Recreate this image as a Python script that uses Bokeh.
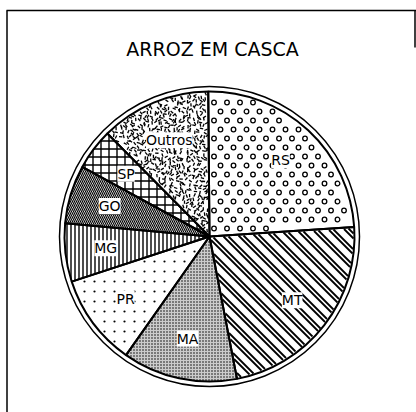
import numpy as np
from bokeh.plotting import figure
from bokeh.models import Range1d, ColumnDataSource, LabelSet, Label
from bokeh.core.properties import value
from bokeh.embed import file_html
from bokeh.resources import INLINE

# ---- data ----
title_text = "ARROZ EM CASCA"
states = ["RS", "MT", "MA", "PR", "MG", "GO", "SP", "Outros"]
shares = [24.1, 23.0, 12.8, 10.2, 6.5, 6.5, 4.6, 12.3]  # % of national production

# ---- styles ----
# built-in hatches for some slices; the others get drawn textures below
patterns = [None, None, "dot", None, "vertical_line", "left_diagonal_line", "cross", None]
pscales = [1, 1, 3, 1, 4, 4, 8, 1]
pweights = [1, 1, 1.1, 1, 1.4, 1.2, 1.4, 1]
fills = ["white", "white", "#cccccc", "white", "white", "white", "white", "white"]

W, H = 416, 412
cx, cy = 209, 176        # pie centre in plot units (== px)
R_in, R_out = 145, 150
start_offset = -0.5      # degrees, clockwise from top

p = figure(width=W, height=H, output_backend="svg", toolbar_location=None,
           x_range=Range1d(0, W), y_range=Range1d(0, H),
           x_axis_location=None, y_axis_location=None, min_border=0)
p.grid.visible = False
p.outline_line_color = None
p.background_fill_color = "white"
p.border_fill_color = "white"

tot = float(sum(shares))
deg = np.array(shares) / tot * 360.0
cum = np.concatenate([[0.0], np.cumsum(deg)]) + start_offset

for i, s in enumerate(states):
    a1 = np.radians(90 - cum[i + 1])
    a2 = np.radians(90 - cum[i])
    kw = {}
    if patterns[i]:
        kw = dict(hatch_pattern=patterns[i], hatch_scale=pscales[i],
                  hatch_weight=pweights[i], hatch_color="black")
    p.wedge(x=cx, y=cy, radius=R_in, start_angle=a1, end_angle=a2,
            fill_color=fills[i], line_color=None, **kw)


def inside(X, Y, i, margin):
    a0, a1 = cum[i], cum[i + 1]
    dx, dy = X - cx, Y - cy
    r = np.hypot(dx, dy)
    rel = (np.degrees(np.arctan2(dx, dy)) - a0) % 360
    span = a1 - a0
    ok = (rel < span) & (r < R_in - margin)
    ok &= r * np.sin(np.radians(rel)) > margin
    ok &= r * np.sin(np.radians(span - rel)) > margin
    return ok


# RS: staggered rings
ry = np.arange(cy - R_in, cy + R_in, 9.0)
gx, gy = [], []
for k, yy in enumerate(ry):
    xx = np.arange(cx - R_in + (6.5 if k % 2 else 0), cx + R_in, 13.0)
    gx.extend(xx); gy.extend([yy] * len(xx))
gx, gy = np.array(gx), np.array(gy)
m = inside(gx, gy, 0, 4)
p.scatter(gx[m], gy[m], marker="circle", size=4.6, fill_color="white",
          line_color="black", line_width=1.3)

# PR: sparse small dots
gx, gy = np.meshgrid(np.arange(cx - R_in, cx + R_in, 10.0), np.arange(cy - R_in, cy + R_in, 10.0))
gx, gy = gx.ravel(), gy.ravel()
m = inside(gx, gy, 3, 3)
p.scatter(gx[m], gy[m], marker="circle", size=2.2, fill_color="black", line_color=None)

# MT: paired diagonal lines (screen "\")
xs_s = np.arange(cx - R_in, cx + R_in, 0.5)
seg_x, seg_y = [], []
for c0 in np.arange(cx + cy - 2 * R_in, cx + cy + 2 * R_in, 16.0):
    for c in (c0, c0 + 5.0):
        ys_s = c - xs_s
        mm = inside(xs_s, ys_s, 1, 0.8)
        if mm.sum() > 1:
            idx = np.where(mm)[0]
            seg_x.append([xs_s[idx[0]], xs_s[idx[-1]]])
            seg_y.append([ys_s[idx[0]], ys_s[idx[-1]]])
p.multi_line(seg_x, seg_y, line_color="black", line_width=1.8)

# Outros: speckle
gx, gy = np.meshgrid(np.arange(cx - R_in, cx + R_in, 3.5), np.arange(cy - R_in, cy + R_in, 3.5))
gx, gy = gx.ravel(), gy.ravel()
h1 = (np.sin(gx * 12.9898 + gy * 78.233) * 43758.5453) % 1.0
h2 = (np.sin(gx * 39.3468 + gy * 11.135) * 24634.6345) % 1.0
h3 = (np.sin(gx * 73.156 + gy * 52.235) * 13758.937) % 1.0
sx = gx + (h1 - 0.5) * 3.0
sy = gy + (h2 - 0.5) * 3.0
m = inside(sx, sy, 7, 1.5) & (h3 > 0.12)
p.scatter(sx[m], sy[m], marker="dash", size=3.4, angle=h3[m] * np.pi,
          line_color="black", line_width=1.3)

# slice outlines on top
for i, s in enumerate(states):
    a1 = np.radians(90 - cum[i + 1])
    a2 = np.radians(90 - cum[i])
    p.wedge(x=cx, y=cy, radius=R_in, start_angle=a1, end_angle=a2,
            fill_color=None, line_color="black", line_width=2)

# outer ring
p.circle(x=[cx], y=[cy], radius=R_out, fill_color=None, line_color="black", line_width=1.5)

# labels
mid = (cum[:-1] + cum[1:]) / 2
rl = 0.72 * R_in
lx = cx + rl * np.sin(np.radians(mid))
ly = cy + rl * np.cos(np.radians(mid))
src = ColumnDataSource(dict(x=lx, y=ly, t=states))
p.add_layout(LabelSet(x="x", y="y", text="t", source=src, text_align="center",
                      text_baseline="middle", text_font=value("DejaVu Sans"),
                      text_font_size="14px", text_color="black",
                      background_fill_color="white"))

# title
p.add_layout(Label(x=212, y=364, text=title_text, text_align="center",
                   text_baseline="middle", text_font="DejaVu Sans",
                   text_font_size="19px", text_color="black"))

# frame lines
p.line(x=[6.5, 6.5], y=[0, 402], line_color="black", line_width=1.5)
p.line(x=[6, 416], y=[402, 402], line_color="black", line_width=1.5)
p.line(x=[414.5, 414.5], y=[402, 365], line_color="black", line_width=1.5)

open("out.html", "w").write(file_html(p, INLINE))
